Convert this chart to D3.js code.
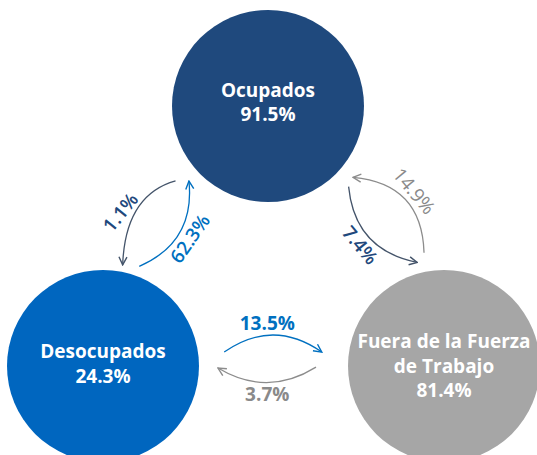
<!DOCTYPE html>
<html>
<head>
<meta charset="utf-8">
<script src="https://cdn.jsdelivr.net/npm/d3@7"></script>
<style>
  body { margin: 0; background: #fff; }
  text { font-family: "Open Sans", sans-serif; }
</style>
</head>
<body>
<svg id="chart"></svg>
<script>
// data
const nodeNames = ["Ocupados", "Desocupados", "Fuera de la Fuerza de Trabajo"];
const nodeLines = [["Ocupados"], ["Desocupados"], ["Fuera de la Fuerza", "de Trabajo"]];
const nodeValues = [91.5, 24.3, 81.4];
const flowFrom = [0, 1, 2, 0, 1, 2];
const flowTo = [1, 0, 0, 2, 2, 1];
const flowValues = [1.1, 62.3, 14.9, 7.4, 13.5, 3.7];

// layout
let width = 537,
  height = 455,
  radius = 96;

let svg = d3.select("#chart").attr("width", width).attr("height", height);

let centers = [[268, 106], [103, 366], [444, 366]];
let textShift = [-3.5, -2, 0];
let nodeColor = d3.scaleOrdinal().domain(nodeNames).range(["#1f497d", "#0066bf", "#a6a6a6"]);

// anchor angle / distance on source and target circle, curve bend + skew, label position on curve, label offset, rotation
let arrowGeom = [
  { a0: 141, d0: 119, a1: -79, d1: 103, bend: -35, skew: -11, lt: 0.6, off: 13, rot: -51 },
  { a0: -70, d0: 106, a1: 136.5, d1: 109, bend: -36, skew: 0, lt: 0.5, off: 12, rot: -55 },
  { a0: -100, d0: 115, a1: 40, d1: 111, bend: -46, skew: 0, lt: 0.5, off: 12, rot: 50 },
  { a0: 45, d0: 114, a1: -104.5, d1: 107, bend: -38, skew: 0, lt: 0.5, off: 12, rot: 50 },
  { a0: -6.6, d0: 122, a1: 186.5, d1: 123, bend: 34, skew: 0, lt: 0.45, off: 12, rot: 0 },
  { a0: 179.5, d0: 128, a1: 1, d1: 115, bend: 30, skew: 0, lt: 0.5, off: 12, rot: 0 }
];
let lineColor = ["#44546a", "#0070c0", "#8c8c8c", "#44546a", "#0070c0", "#8c8c8c"];
let labelColor = ["#1f497d", "#0070c0", "#8a8a8a", "#1f497d", "#0070c0", "#8a8a8a"];
let labelWeight = [600, 600, 400, 600, 700, 700];

let pct = (v) => d3.format(".1f")(v) + "%";
let polar = (c, a, d) => [c[0] + d * Math.cos((a * Math.PI) / 180), c[1] + d * Math.sin((a * Math.PI) / 180)];

let defs = svg.append("defs");
lineColor.forEach((col, i) => {
  defs.append("marker")
    .attr("id", "head" + i)
    .attr("viewBox", "0 0 10 10")
    .attr("refX", 9)
    .attr("refY", 5)
    .attr("markerUnits", "userSpaceOnUse")
    .attr("markerWidth", 10)
    .attr("markerHeight", 10)
    .attr("orient", "auto")
    .append("path")
    .attr("d", "M1,1 L9,5 L1,9")
    .attr("fill", "none")
    .attr("stroke", col)
    .attr("stroke-width", 1.4);
});

// circles
let nodes = svg.selectAll(".node")
  .data(nodeNames)
  .enter()
  .append("g")
  .attr("class", "node")
  .attr("transform", (d, i) => "translate(" + centers[i][0] + "," + centers[i][1] + ")");

nodes.append("circle")
  .attr("r", radius)
  .attr("fill", (d) => nodeColor(d));

nodes.each(function (d, i) {
  let lines = nodeLines[i].concat([pct(nodeValues[i])]);
  let lh = 24.5;
  let t = d3.select(this).append("text")
    .attr("text-anchor", "middle")
    .attr("fill", "#fff")
    .attr("font-weight", 700)
    .attr("font-size", "19px");
  lines.forEach((s, k) => {
    t.append("tspan")
      .attr("x", 0)
      .attr("y", (k - (lines.length - 1) / 2) * lh + textShift[i])
      .attr("dy", "0.35em")
      .text(s);
  });
});

// arrows
let flows = flowValues.map((v, i) => {
  let g = arrowGeom[i];
  let p0 = polar(centers[flowFrom[i]], g.a0, g.d0),
    p2 = polar(centers[flowTo[i]], g.a1, g.d1);
  let dx = p2[0] - p0[0],
    dy = p2[1] - p0[1],
    len = Math.hypot(dx, dy);
  let n = [dy / len, -dx / len],
    dir = [dx / len, dy / len];
  let c = [
    (p0[0] + p2[0]) / 2 + g.bend * n[0] + g.skew * dir[0],
    (p0[1] + p2[1]) / 2 + g.bend * n[1] + g.skew * dir[1]
  ];
  // point and normal on the curve for the label
  let t = g.lt,
    u = 1 - t;
  let pt = [u * u * p0[0] + 2 * u * t * c[0] + t * t * p2[0], u * u * p0[1] + 2 * u * t * c[1] + t * t * p2[1]];
  let tx = 2 * u * (c[0] - p0[0]) + 2 * t * (p2[0] - c[0]),
    ty = 2 * u * (c[1] - p0[1]) + 2 * t * (p2[1] - c[1]),
    tl = Math.hypot(tx, ty);
  let off = g.off * Math.sign(g.bend);
  return { value: v, i: i, p0: p0, p2: p2, c: c, label: [pt[0] + (off * ty) / tl, pt[1] - (off * tx) / tl], rot: g.rot };
});

svg.selectAll(".flow")
  .data(flows)
  .enter()
  .append("path")
  .attr("class", "flow")
  .attr("d", (d) => {
    let p = d3.path();
    p.moveTo(d.p0[0], d.p0[1]);
    p.quadraticCurveTo(d.c[0], d.c[1], d.p2[0], d.p2[1]);
    return p.toString();
  })
  .attr("fill", "none")
  .attr("stroke", (d) => lineColor[d.i])
  .attr("stroke-width", 1.3)
  .attr("marker-end", (d) => "url(#head" + d.i + ")");

svg.selectAll(".flowlabel")
  .data(flows)
  .enter()
  .append("text")
  .attr("class", "flowlabel")
  .attr("transform", (d) => "translate(" + d.label[0] + "," + d.label[1] + ") rotate(" + d.rot + ")")
  .attr("text-anchor", "middle")
  .attr("dy", "0.35em")
  .attr("fill", (d) => labelColor[d.i])
  .attr("font-weight", (d) => labelWeight[d.i])
  .attr("font-size", "19px")
  .text((d) => pct(d.value));
</script>
</body>
</html>
